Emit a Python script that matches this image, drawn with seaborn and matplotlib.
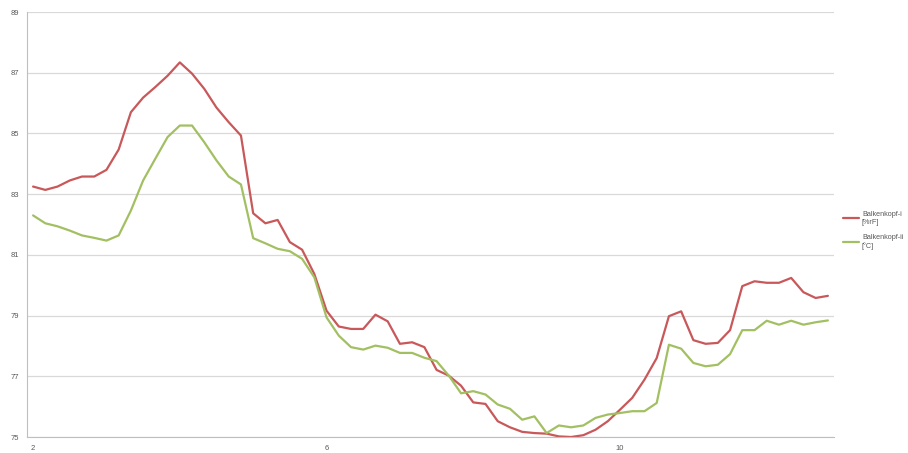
import numpy as np
import pandas as pd
import matplotlib
matplotlib.use("Agg")
import matplotlib.pyplot as plt
import seaborn as sns

# values, one per time step (66 steps)
rel_humidity = [83.25, 83.14, 83.25, 83.45, 83.58, 83.58, 83.8, 84.47, 85.7, 86.18,
                86.53, 86.9, 87.34, 86.97, 86.47, 85.85, 85.37, 84.93, 82.37, 82.04,
                82.15, 81.42, 81.17, 80.37, 79.16, 78.64, 78.56, 78.56, 79.03, 78.81,
                78.07, 78.12, 77.96, 77.21, 77.02, 76.69, 76.14, 76.09, 75.52, 75.32,
                75.17, 75.13, 75.11, 75.02, 75.0, 75.06, 75.24, 75.52, 75.9, 76.29,
                76.89, 77.6, 78.98, 79.14, 78.19, 78.07, 78.1, 78.52, 79.97, 80.13,
                80.08, 80.08, 80.24, 79.77, 79.58, 79.65]
temperature = [82.3, 82.04, 81.94, 81.8, 81.64, 81.56, 81.47, 81.64, 82.46, 83.45,
               84.17, 84.88, 85.26, 85.26, 84.71, 84.11, 83.58, 83.32, 81.55, 81.38,
               81.2, 81.12, 80.87, 80.26, 78.94, 78.34, 77.96, 77.88, 78.01, 77.94,
               77.77, 77.77, 77.61, 77.5, 77.02, 76.44, 76.51, 76.4, 76.07, 75.93,
               75.57, 75.68, 75.13, 75.38, 75.32, 75.38, 75.63, 75.74, 75.79, 75.85,
               75.85, 76.12, 78.04, 77.91, 77.44, 77.33, 77.38, 77.73, 78.52, 78.52,
               78.83, 78.7, 78.83, 78.7, 78.78, 78.84]
series_names = ["Balkenkopf-i\n[%rF]", "Balkenkopf-ii\n[°C]"]
x_label_pos = [0, 24, 48]
x_labels = ["2", "6", "10"]
y_ticks = [75, 77, 79, 81, 83, 85, 87, 89]

df = pd.DataFrame({
    "step": list(range(len(rel_humidity))) * 2,
    "value": rel_humidity + temperature,
    "series": [series_names[0]] * len(rel_humidity) + [series_names[1]] * len(temperature),
})

sns.set_style("white")
plt.rcParams["font.family"] = ["Liberation Sans", "DejaVu Sans"]
fig = plt.figure(figsize=(9.08, 4.53), dpi=100)
ax = fig.add_axes([0.0297, 0.0353, 0.8888, 0.9382])

sns.lineplot(data=df, x="step", y="value", hue="series",
             palette=["#C8585A", "#A2C062"], linewidth=1.6, ax=ax, legend=True)

ax.set_xlim(-0.5, len(rel_humidity) - 0.5)
ax.set_ylim(75, 89)
ax.set_yticks(y_ticks)
ax.set_yticklabels([str(v) for v in y_ticks])
ax.set_xticks(x_label_pos)
ax.set_xticklabels(x_labels)
ax.set_xticks(np.arange(-0.5, len(rel_humidity), 1), minor=True)
ax.tick_params(axis="x", which="major", length=0, pad=6, labelsize=5.5, colors="#595959")
ax.tick_params(axis="x", which="minor", length=2.5, color="#bfbfbf", width=0.6, direction="inout")
ax.tick_params(axis="y", length=2.5, color="#bfbfbf", width=0.6, labelsize=5.5,
               colors="#595959", pad=6, direction="in")
ax.grid(axis="y", color="#d9d9d9", linewidth=0.9)
ax.set_axisbelow(True)
ax.set_xlabel("")
ax.set_ylabel("")
for side in ["top", "right"]:
    ax.spines[side].set_visible(False)
for side in ["left", "bottom"]:
    ax.spines[side].set_color("#bfbfbf")
    ax.spines[side].set_linewidth(0.8)

leg = ax.legend(loc="center left", bbox_to_anchor=(0.927, 0.492), bbox_transform=fig.transFigure,
                frameon=False, fontsize=5.2, handlelength=2.2, handletextpad=0.4,
                labelspacing=1.1, borderaxespad=0, borderpad=0.2)
for t in leg.get_texts():
    t.set_color("#595959")

fig.savefig("out.png", dpi=100)
